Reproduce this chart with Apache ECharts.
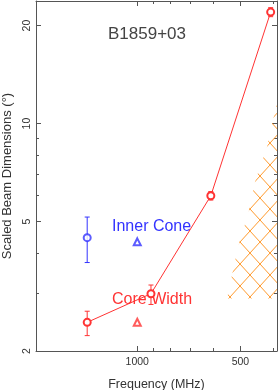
<!DOCTYPE html>
<html><head><meta charset="utf-8">
<script src="https://cdn.jsdelivr.net/npm/echarts@6/dist/echarts.min.js"></script>
<style>html,body{margin:0;padding:0;background:#fff}#c{width:278px;height:390px}</style>
</head><body><div id="c"></div>
<script>
// ---- data ----
const coreFreq     = [1400, 912, 610, 408];
const coreWidth    = [2.45, 3.00, 6.00, 22.0];
const coreErrLow   = [2.23, 2.78, 5.82, 21.3];
const coreErrHigh  = [2.65, 3.19, 6.18, 22.7];
const innerFreq    = [1400];
const innerCone    = [4.46];
const innerErrLow  = [3.74];
const innerErrHigh = [5.16];
const modelFreq    = [1000];
const modelInner   = [4.33];
const modelCore    = [2.45];
const hatchFreq    = [547, 508, 474, 452, 418, 404, 391, 391];
const hatchVal     = [2.90, 4.18, 5.30, 6.70, 8.47, 10.0, 11.5, 2.90];
const xMajorTicks  = [1000, 500];
const xMinorTicks  = [900, 800, 700, 600, 400];
const yMajorTicks  = [2, 5, 10, 20];
const yMinorTicks  = [3, 4, 6, 7, 8, 9];
const xRange = [391, 1975];
const yRange = [2, 23.8];

const RED = '#ff3333', BLUE = '#3333ff', ORANGE = '#ff9a2e', AX = '#555';
const FONT = 'Liberation Sans';

function hatchCanvas() {
  const w = 20, h = 22;
  const c = document.createElement('canvas');
  c.width = w; c.height = h;
  const g = c.getContext('2d');
  g.strokeStyle = ORANGE; g.lineWidth = 1;
  g.beginPath();
  g.moveTo(0, 0); g.lineTo(w, h);
  g.moveTo(w, 0); g.lineTo(0, h);
  g.moveTo(-w / 2, h / 2); g.lineTo(w / 2, h * 1.5);
  g.moveTo(w / 2, -h / 2); g.lineTo(w * 1.5, h / 2);
  g.moveTo(w / 2, -h / 2); g.lineTo(-w / 2, h / 2);
  g.moveTo(w * 1.5, h / 2); g.lineTo(w / 2, h * 1.5);
  g.stroke();
  return c;
}
const pattern = hatchCanvas();

function xAxisDef(pos, ticks, len, withLine, withLabel) {
  return {
    type: 'log', position: pos, inverse: true, min: xRange[0], max: xRange[1],
    axisLine: {show: withLine, lineStyle: {color: AX, width: 1}},
    axisTick: {show: true, inside: true, length: len, customValues: ticks, lineStyle: {color: AX}},
    axisLabel: withLabel ? {show: true, customValues: ticks, formatter: v => String(Math.round(v)),
      fontFamily: FONT, fontSize: 10.5, color: '#333', margin: 6} : {show: false},
    splitLine: {show: false}, minorTick: {show: false}
  };
}
function yAxisDef(pos, ticks, len, withLine, withLabel) {
  return {
    type: 'log', position: pos, min: yRange[0], max: yRange[1],
    axisLine: {show: withLine, lineStyle: {color: AX, width: 1}},
    axisTick: {show: true, inside: true, length: len, customValues: ticks, lineStyle: {color: AX}},
    axisLabel: withLabel ? {show: true, customValues: ticks, rotate: 90, formatter: v => String(Math.round(v)),
      fontFamily: FONT, fontSize: 10.5, color: '#333', margin: 3} : {show: false},
    splitLine: {show: false}, minorTick: {show: false}
  };
}

const xAxes = [
  xAxisDef('bottom', xMajorTicks, 5, true, true),
  xAxisDef('bottom', xMinorTicks, 3, false, false),
  xAxisDef('top', xMajorTicks, 5, true, false),
  xAxisDef('top', xMinorTicks, 3, false, false)
];
Object.assign(xAxes[0], {name: 'Frequency (MHz)', nameLocation: 'middle', nameGap: 27,
  nameTextStyle: {fontFamily: FONT, fontSize: 12.5, color: '#333'}});
const yAxes = [
  yAxisDef('left', yMajorTicks, 5, true, true),
  yAxisDef('left', yMinorTicks, 3, false, false),
  yAxisDef('right', yMajorTicks, 5, true, false),
  yAxisDef('right', yMinorTicks, 3, false, false)
];
Object.assign(yAxes[0], {name: 'Scaled Beam Dimensions (°)', nameLocation: 'middle', nameGap: 22, nameRotate: 90,
  nameTextStyle: {fontFamily: FONT, fontSize: 13, color: '#333'}});

function errRender(color) {
  return function (params, api) {
    const x = api.value(0);
    const lo = api.coord([x, api.value(1)]);
    const hi = api.coord([x, api.value(2)]);
    const w = 2.5, st = {stroke: color, lineWidth: 1};
    return {type: 'group', children: [
      {type: 'line', shape: {x1: lo[0], y1: lo[1], x2: hi[0], y2: hi[1]}, style: st},
      {type: 'line', shape: {x1: lo[0] - w, y1: lo[1], x2: lo[0] + w, y2: lo[1]}, style: st},
      {type: 'line', shape: {x1: hi[0] - w, y1: hi[1], x2: hi[0] + w, y2: hi[1]}, style: st}
    ]};
  };
}

const chart = echarts.init(document.getElementById('c'), null, {renderer: 'canvas'});
chart.setOption({
  animation: false,
  backgroundColor: '#fff',
  grid: {left: 36, right: 1, top: 1, bottom: 39, outerBoundsMode: 'none'},
  title: {text: 'B1859+03', left: 108, top: 26, padding: 0,
    textStyle: {fontFamily: FONT, fontSize: 17, fontWeight: 'normal', color: '#444'}},
  xAxis: xAxes,
  yAxis: yAxes,
  graphic: [
    {type: 'text', left: 112, top: 219, style: {text: 'Inner Cone', fill: BLUE, font: '16px "Liberation Sans"'}},
    {type: 'text', left: 112, top: 292, style: {text: 'Core Width', fill: RED, font: '16px "Liberation Sans"'}}
  ],
  series: [
    {type: 'custom', silent: true, z: 1,
      data: [[hatchFreq[0], hatchVal[0]]],
      renderItem: function (params, api) {
        const pts = hatchFreq.map((f, i) => api.coord([f, hatchVal[i]]));
        return {type: 'polygon', shape: {points: pts},
          style: {fill: {type: 'pattern', image: pattern, repeat: 'repeat'}, stroke: null}};
      }},
    {type: 'line', name: 'Core Width', data: coreFreq.map((f, i) => [f, coreWidth[i]]),
      symbol: 'emptyCircle', symbolSize: 7, lineStyle: {color: RED, width: 1},
      itemStyle: {color: RED, borderColor: RED, borderWidth: 0.8}, z: 3},
    {type: 'custom', name: 'Core err', data: coreFreq.map((f, i) => [f, coreErrLow[i], coreErrHigh[i]]),
      encode: {x: 0, y: [1, 2]}, renderItem: errRender(RED), z: 3},
    {type: 'scatter', name: 'Inner Cone', data: innerFreq.map((f, i) => [f, innerCone[i]]),
      symbol: 'emptyCircle', symbolSize: 7, itemStyle: {color: BLUE, borderColor: BLUE, borderWidth: 0.8}, z: 3},
    {type: 'custom', name: 'Inner err', data: innerFreq.map((f, i) => [f, innerErrLow[i], innerErrHigh[i]]),
      encode: {x: 0, y: [1, 2]}, renderItem: errRender(BLUE), z: 3},
    {type: 'scatter', name: 'Model inner', data: modelFreq.map((f, i) => [f, modelInner[i]]),
      symbol: 'emptyTriangle', symbolSize: 7, itemStyle: {color: BLUE, borderColor: BLUE, borderWidth: 0.8}, z: 3},
    {type: 'scatter', name: 'Model core', data: modelFreq.map((f, i) => [f, modelCore[i]]),
      symbol: 'emptyTriangle', symbolSize: 7, itemStyle: {color: RED, borderColor: RED, borderWidth: 0.8}, z: 3}
  ]
});
</script></body></html>
